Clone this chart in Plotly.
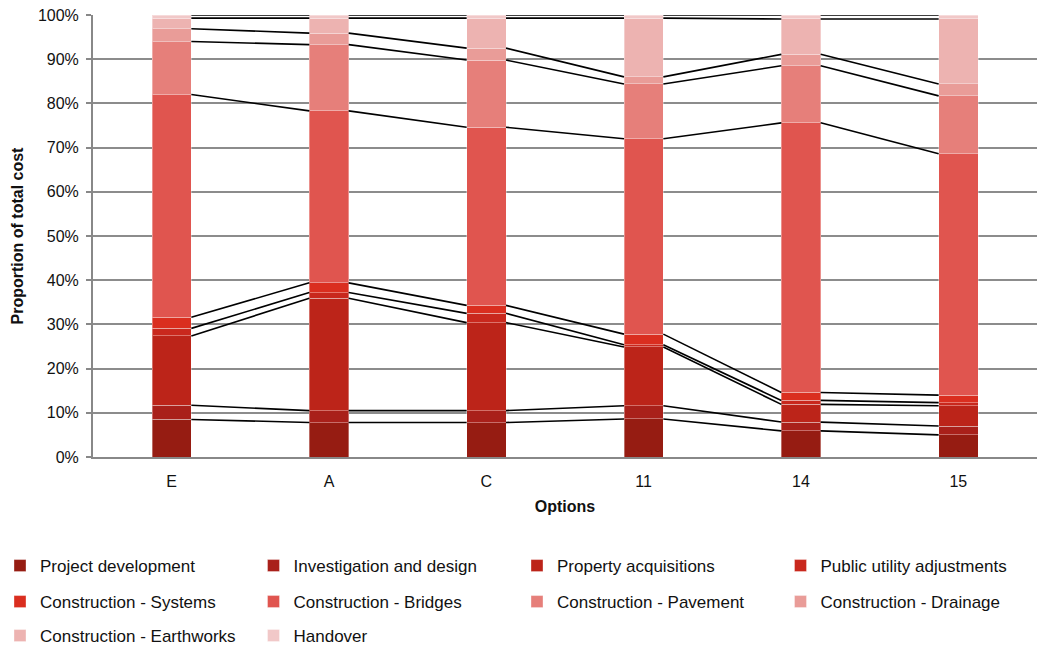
import numpy as np
import plotly.graph_objects as go

# Options compared, in display order
options = ["E", "A", "C", "11", "14", "15"]

# Share of total cost (%) for each cost component, per option
project_development = [8.5, 7.8, 7.8, 8.6, 5.9, 5.0]
investigation_design = [3.2, 2.7, 2.7, 3.0, 2.0, 2.0]
property_acquisitions = [15.7, 25.4, 19.9, 13.3, 4.0, 4.6]
public_utility = [1.7, 1.3, 2.1, 0.5, 0.9, 0.7]
construction_systems = [2.5, 2.2, 1.8, 2.4, 1.8, 1.7]
construction_bridges = [50.4, 38.9, 40.3, 44.2, 61.0, 54.6]
construction_pavement = [12.0, 15.0, 15.2, 12.4, 12.9, 13.1]
construction_drainage = [2.9, 2.6, 2.7, 1.6, 2.6, 2.7]
construction_earthworks = [2.4, 3.4, 6.8, 13.3, 8.0, 14.7]
handover = [0.7, 0.7, 0.7, 0.7, 0.9, 0.9]

series_names = [
    "Project development",
    "Investigation and design",
    "Property acquisitions",
    "Public utility adjustments",
    "Construction - Systems",
    "Construction - Bridges",
    "Construction - Pavement",
    "Construction - Drainage",
    "Construction - Earthworks",
    "Handover",
]
series_values = [
    project_development,
    investigation_design,
    property_acquisitions,
    public_utility,
    construction_systems,
    construction_bridges,
    construction_pavement,
    construction_drainage,
    construction_earthworks,
    handover,
]
series_colors = [
    "#961C12", "#A9201A", "#BC2419", "#C9281D", "#DA2E1F",
    "#E0554F", "#E67F7A", "#E99C98", "#EDB3B1", "#F1C8C8",
]

BAR_WIDTH = 0.25
xpos = np.arange(len(options))

fig = go.Figure()

# Each legend entry gets its own legend box so the entries form a 4-column grid
legend_ids = ["legend"] + [f"legend{k}" for k in range(2, len(series_names) + 1)]

for lid, name, vals, color in zip(legend_ids, series_names, series_values, series_colors):
    fig.add_trace(go.Bar(
        x=xpos, y=vals, name=name, width=BAR_WIDTH,
        marker=dict(color=color, line=dict(color="rgba(255,255,255,0.35)", width=1)),
        legend=lid,
    ))

# Series lines joining the top of each stacked segment between neighbouring bars
cum = np.cumsum(np.array(series_values, dtype=float), axis=0)
lx, ly = [], []
for level in cum:
    for i in range(len(options) - 1):
        lx += [xpos[i] + BAR_WIDTH / 2, xpos[i + 1] - BAR_WIDTH / 2, None]
        ly += [level[i], level[i + 1], None]
fig.add_trace(go.Scatter(
    x=lx, y=ly, mode="lines", line=dict(color="black", width=1.6),
    showlegend=False, hoverinfo="skip", cliponaxis=False,
))

W, H = 1039, 646
legend_common = dict(
    orientation="h", xref="container", yref="container",
    xanchor="left", yanchor="middle",
    font=dict(family="Liberation Sans, Arial, sans-serif", size=17, color="#111"),
    bgcolor="rgba(0,0,0,0)",
)
column_left = [0, 253.5, 517, 780.5]
row_middle = [566, 602, 636]

fig.update_layout(
    width=W, height=H,
    barmode="stack",
    plot_bgcolor="white", paper_bgcolor="white",
    margin=dict(l=93, r=2, t=15, b=189),
    font=dict(family="Liberation Sans, Arial, sans-serif", size=16, color="#111"),
    xaxis=dict(
        range=[-0.5, len(options) - 0.5],
        tickmode="array", tickvals=xpos, ticktext=options,
        showline=True, linecolor="#888", linewidth=2,
        showgrid=False, zeroline=False, ticks="",
        tickfont=dict(size=16), ticklabelstandoff=9,
        title=dict(text="<b>Options</b>", font=dict(size=16), standoff=12),
    ),
    yaxis=dict(
        range=[0, 100], dtick=10, ticksuffix="%",
        showline=True, linecolor="#888", linewidth=2,
        showgrid=True, gridcolor="#8c8c8c", gridwidth=1.5,
        zeroline=False, ticks="outside", ticklen=5, tickcolor="#888", tickwidth=1.5,
        tickfont=dict(size=16), ticklabelstandoff=4,
        title=dict(text="<b>Proportion of total cost</b>", font=dict(size=16), standoff=10),
    ),
    showlegend=True,
)
for k, lid in enumerate(legend_ids):
    fig.update_layout({lid: dict(
        legend_common,
        x=column_left[k % 4] / W,
        y=1 - row_middle[k // 4] / H,
    )})

fig.write_html("out.html")
